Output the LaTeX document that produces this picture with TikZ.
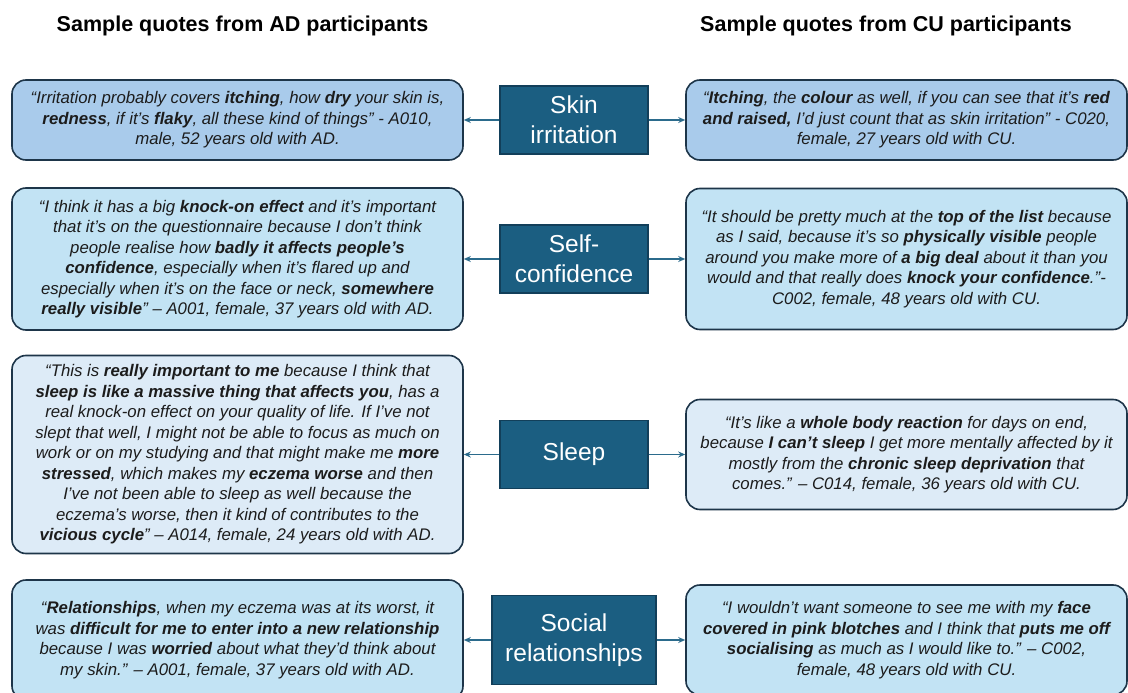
\documentclass[tikz,border=0pt]{standalone}
\usepackage{fontspec}
\setmainfont{Liberation Sans}
\usetikzlibrary{arrows.meta, positioning}

\definecolor{topicblue}{HTML}{1B5E81}
\definecolor{topicline}{HTML}{123F5A}
\definecolor{quoteline}{HTML}{1D3549}
\definecolor{quotetext}{HTML}{1C1C1C}
\definecolor{fillone}{HTML}{A9CBEB}
\definecolor{filltwo}{HTML}{C2E3F4}
\definecolor{fillthree}{HTML}{DDEBF7}
\definecolor{arrowblue}{HTML}{2B6B8C}

\begin{document}
\begin{tikzpicture}[x=1pt, y=-1pt,
  every node/.style={inner sep=0pt, align=center},
  quote/.style={draw=quoteline, line width=1.6pt, rounded corners=14pt,
    text=quotetext, font=\fontsize{16.8}{20.5}\selectfont\itshape},
  topic/.style={draw=topicline, line width=1.6pt, fill=topicblue, text=white,
    font=\fontsize{24.5}{30}\selectfont, minimum width=148pt, minimum height=68pt},
  heading/.style={font=\fontsize{21.5}{25}\selectfont\bfseries}
]

\clip (0,0) rectangle (1128,693);
\fill[white] (0,0) rectangle (1128,693);

% Column headings
\node[heading] (HL) at (242.5, 26) {Sample quotes from AD participants};
\node[heading] (HR) at (886, 26)   {Sample quotes from CU participants};

% Topic boxes WITH LABELS
\node[topic] (C1) at (574, 120)   {Skin\\irritation};
\node[topic] (C2) at (574, 259)   {Self-\\confidence};
\node[topic] (C3) at (574, 454.5) {Sleep};
\node[topic, minimum width=164pt, minimum height=89pt] (C4) at (574, 640) {Social\\relationships};

% AD quotes (left)
\node[quote, fill=fillone, minimum width=451pt, minimum height=80pt] (L1) at (237.5, 120)
  {“Irritation probably covers \textbf{itching}, how \textbf{dry} your skin is,\\
   \textbf{redness}, if it’s \textbf{flaky}, all these kind of things” - A010,\\
   male, 52 years old with AD.};
\node[quote, fill=filltwo, minimum width=451pt, minimum height=142pt] (L2) at (237.5, 259)
  {“I think it has a big \textbf{knock-on effect} and it’s important\\
   that it’s on the questionnaire because I don’t think\\
   people realise how \textbf{badly it affects people’s}\\
   \textbf{confidence}, especially when it’s flared up and\\
   especially when it’s on the face or neck, \textbf{somewhere}\\
   \textbf{really visible}” – A001, female, 37 years old with AD.};
\node[quote, fill=fillthree, minimum width=451pt, minimum height=198pt] (L3) at (237.5, 454.5)
  {“This is \textbf{really important to me} because I think that\\
   \textbf{sleep is like a massive thing that affects you}, has a\\
   real knock-on effect on your quality of life. If I’ve not\\
   slept that well, I might not be able to focus as much on\\
   work or on my studying and that might make me \textbf{more}\\
   \textbf{stressed}, which makes my \textbf{eczema worse} and then\\
   I’ve not been able to sleep as well because the\\
   eczema’s worse, then it kind of contributes to the\\
   \textbf{vicious cycle}” – A014, female, 24 years old with AD.};
\node[quote, fill=filltwo, minimum width=451pt, minimum height=120pt] (L4) at (237.5, 640)
  {“\textbf{Relationships}, when my eczema was at its worst, it\\
   was \textbf{difficult for me to enter into a new relationship}\\
   because I was \textbf{worried} about what they’d think about\\
   my skin.” – A001, female, 37 years old with AD.};

% CU quotes (right)
\node[quote, fill=fillone, minimum width=441pt, minimum height=80pt] (R1) at (906.5, 120)
  {“\textbf{Itching}, the \textbf{colour} as well, if you can see that it’s \textbf{red}\\
   \textbf{and raised,} I’d just count that as skin irritation” - C020,\\
   female, 27 years old with CU.};
\node[quote, fill=filltwo, minimum width=441pt, minimum height=141pt] (R2) at (906.5, 259)
  {“It should be pretty much at the \textbf{top of the list} because\\
   as I said, because it’s so \textbf{physically visible} people\\
   around you make more of \textbf{a big deal} about it than you\\
   would and that really does \textbf{knock your confidence}.”-\\
   C002, female, 48 years old with CU.};
\node[quote, fill=fillthree, minimum width=441pt, minimum height=110pt] (R3) at (906.5, 454.5)
  {“It’s like a \textbf{whole body reaction} for days on end,\\
   because \textbf{I can’t sleep} I get more mentally affected by it\\
   mostly from the \textbf{chronic sleep deprivation} that\\
   comes.” – C014, female, 36 years old with CU.};
\node[quote, fill=filltwo, minimum width=441pt, minimum height=110pt] (R4) at (906.5, 640)
  {“I wouldn’t want someone to see me with my \textbf{face}\\
   \textbf{covered in pink blotches} and I think that \textbf{puts me off}\\
   \textbf{socialising} as much as I would like to.” – C002,\\
   female, 48 years old with CU.};

% Connector style
\tikzset{
  link/.style={
    draw=arrowblue, line width=1.6pt,
    -{Stealth[length=7pt, width=6pt]}
  }
}

% ---- Connectors ----
\foreach \row in {1,2,3,4} {
  \draw[link] (C\row) -- (L\row);
  \draw[link] (C\row) -- (R\row);
}

\end{tikzpicture}
\end{document}
